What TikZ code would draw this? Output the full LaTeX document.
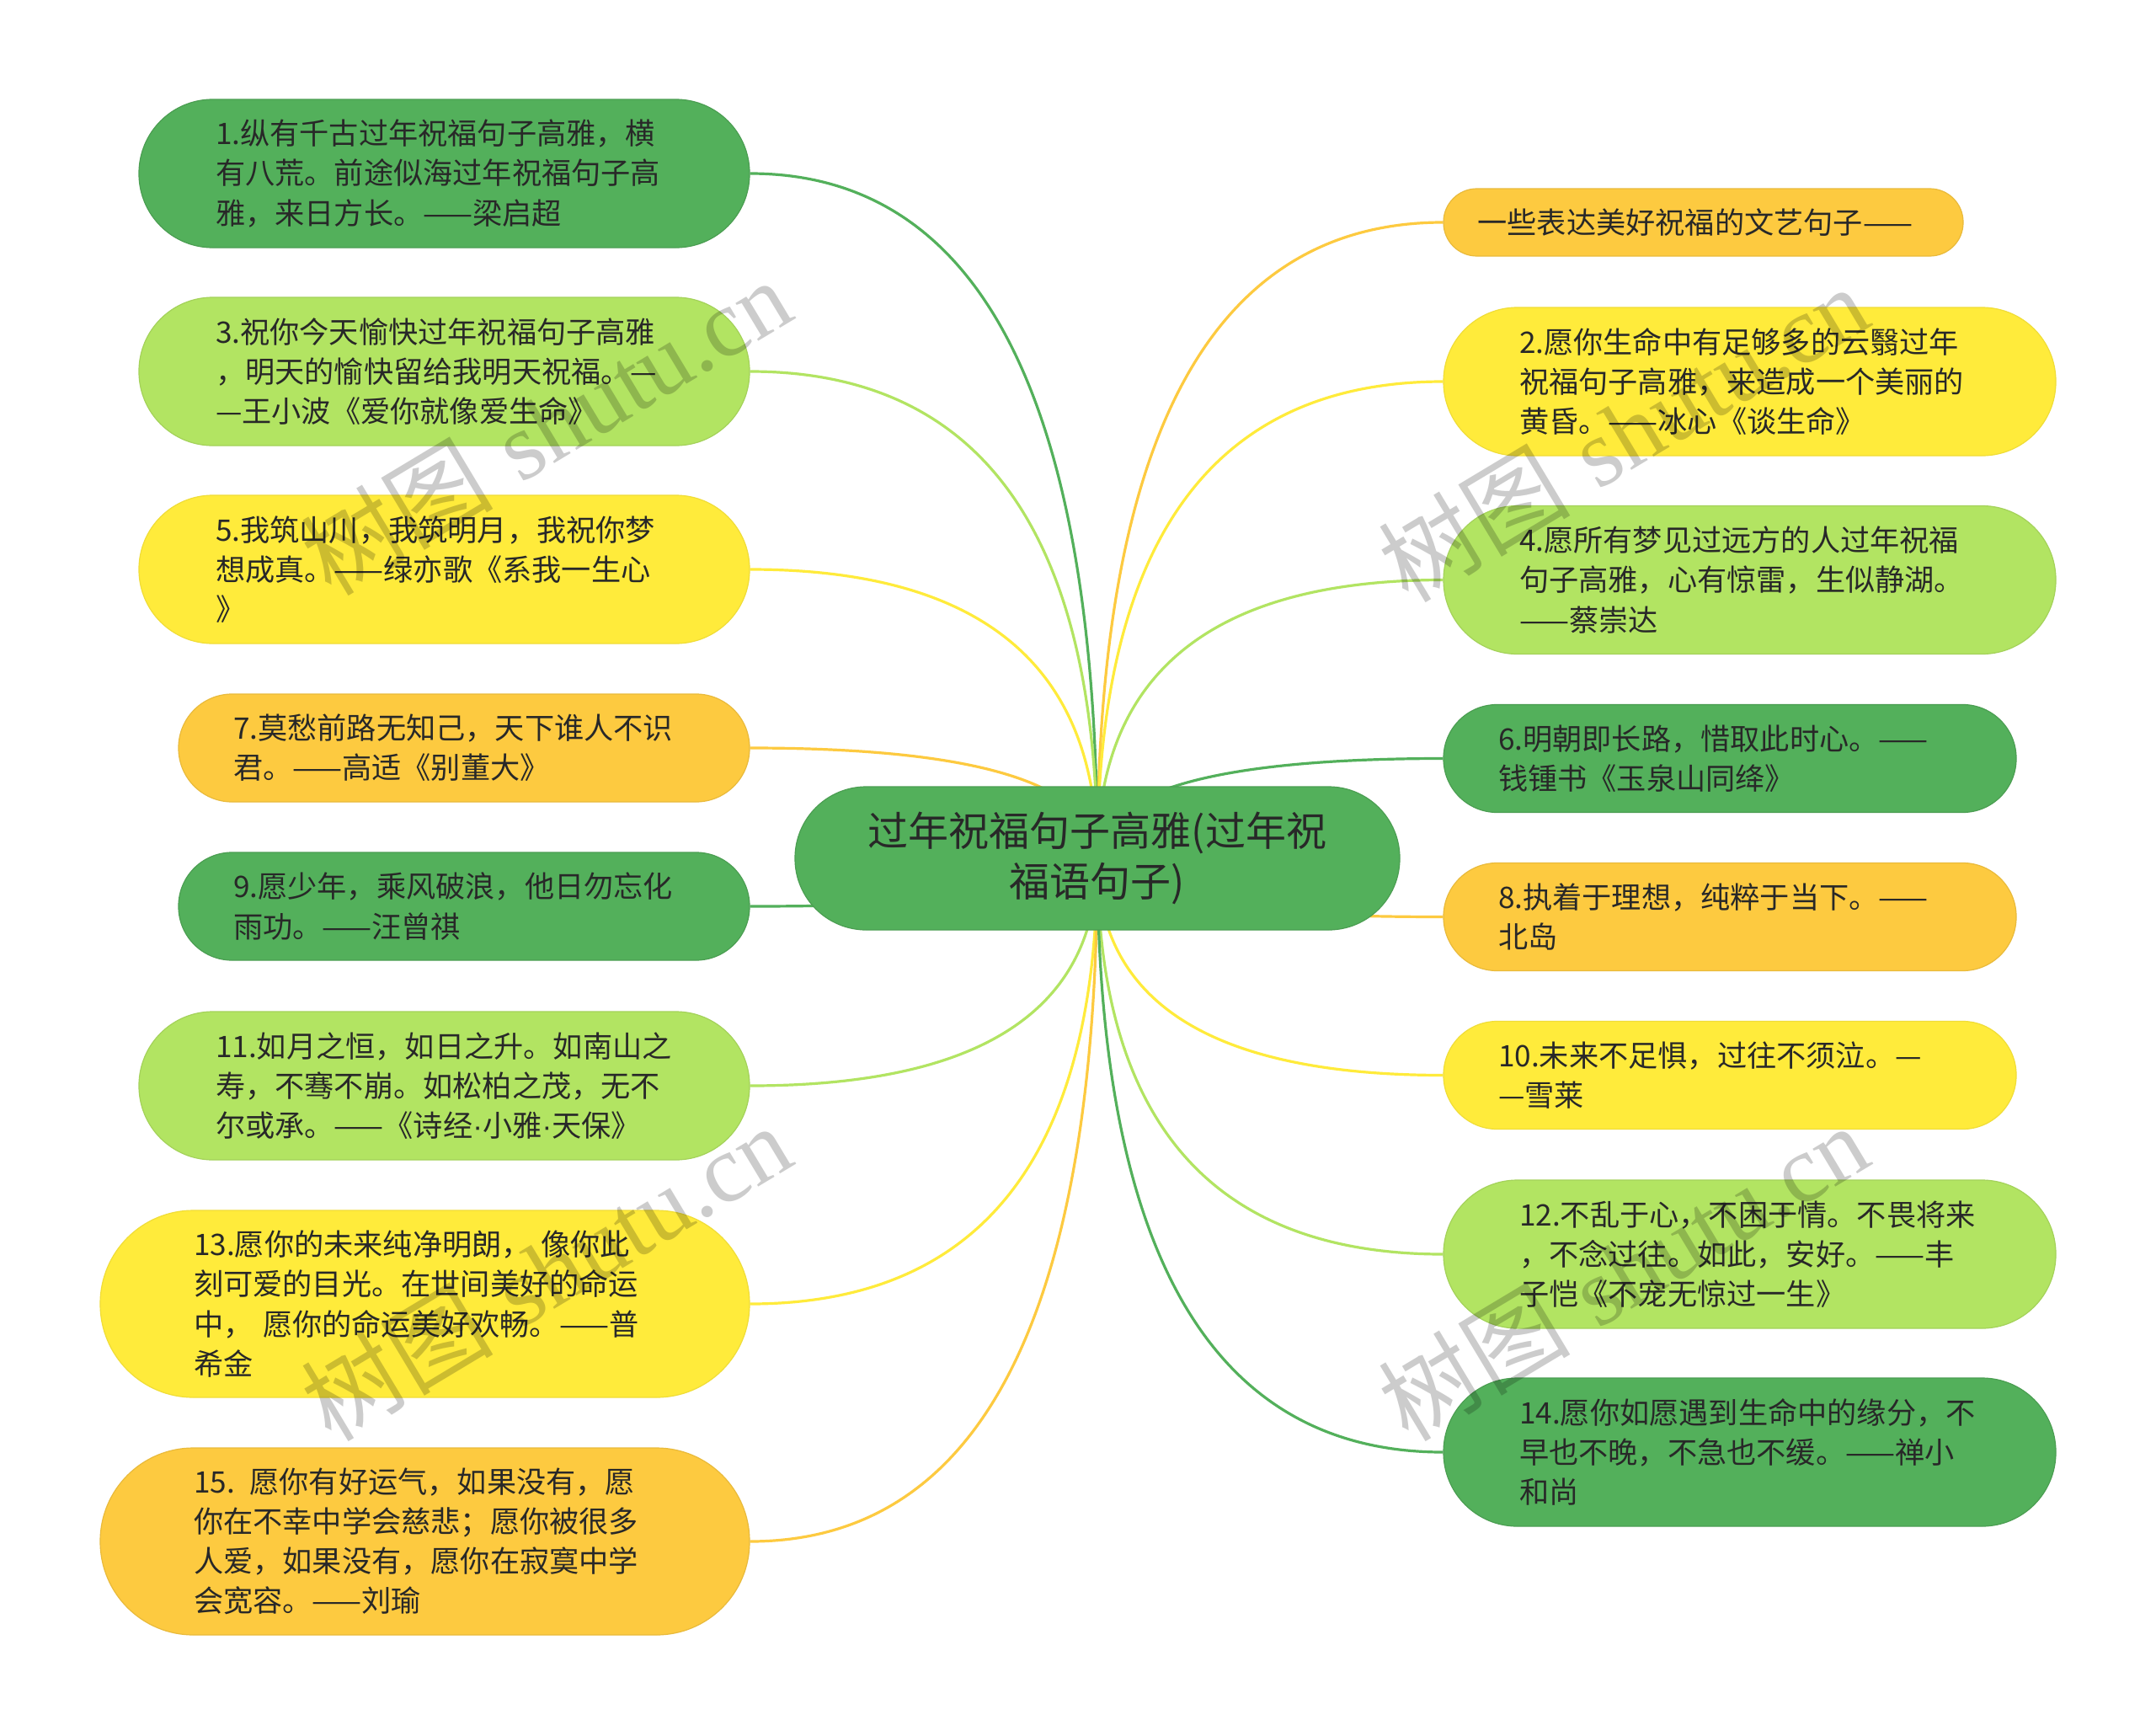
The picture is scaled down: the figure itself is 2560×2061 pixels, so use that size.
\documentclass[tikz,border=0pt]{standalone}
\usepackage{fontspec}
\newfontfamily\cjk{Noto Sans CJK SC}
\newfontfamily\wmserif{Liberation Serif}
\newfontfamily\latinsans{Liberation Sans}
\usetikzlibrary{calc}
\pgfdeclarelayer{bg}
\pgfsetlayers{bg,main}
\definecolor{dgreen}{RGB}{83,176,91}
\definecolor{lgreen}{RGB}{178,228,98}
\definecolor{yel}{RGB}{255,235,59}
\definecolor{org}{RGB}{253,202,64}
\definecolor{txt}{RGB}{40,40,40}
\tikzset{
  leaf/.style={font=\cjk\fontsize{17.6}{23.6}\selectfont, text=txt, align=left, inner sep=0pt, line width=0.6pt},
  h1/.style={minimum height=40pt, rounded corners=19.8pt},
  h2/.style={minimum height=64pt, rounded corners=31.8pt},
  h3/.style={minimum height=88pt, rounded corners=43.8pt},
  h4/.style={minimum height=111pt, rounded corners=55.3pt},
  cdg/.style={fill=dgreen, draw=dgreen!90!black},
  clg/.style={fill=lgreen, draw=lgreen!92!black},
  cye/.style={fill=yel, draw=yel!94!black},
  cor/.style={fill=org, draw=org!92!black},
  link/.style={line width=1.6pt},
  wm/.style={rotate=31, text=black, text opacity=0.2, inner sep=0pt},
}
\newcommand{\linkto}[2]{%
  \draw[link,#1] (c.center) .. controls ($(c.center)!0.6667!(c.center |- #2)$) and ($(#2)!0.6667!(c.center |- #2)$) .. (#2);}
\newcommand{\mdot}{{\latinsans ·}}
\begin{document}
\begin{tikzpicture}[x=0.5pt, y=-0.5pt]
\useasboundingbox (0,0) rectangle (2560,2061);

% centre
\node[font=\cjk\fontsize{24}{30.2}\selectfont, text=txt, align=center, inner sep=0pt,
      fill=dgreen, draw=dgreen!90!black, line width=0.6pt,
      minimum width=359pt, minimum height=85pt, rounded corners=42.3pt] (c) at (1303,1019)
  {过年祝福句子高雅(过年祝\\福语句子)};

% left side
\node[leaf, h3, cdg, minimum width=362.5pt, text width=271.5pt] (n1) at (527.5,206)
  {1.纵有千古过年祝福句子高雅，横\\有八荒。前途似海过年祝福句子高\\雅，来日方长。——梁启超};
\node[leaf, h3, clg, minimum width=362.5pt, text width=271.5pt] (n3) at (527.5,441)
  {3.祝你今天愉快过年祝福句子高雅\\，明天的愉快留给我明天祝福。—\\—王小波《爱你就像爱生命》};
\node[leaf, h3, cye, minimum width=362.5pt, text width=271.5pt] (n5) at (527.5,676)
  {5.我筑山川，我筑明月，我祝你梦\\想成真。——绿亦歌《系我一生心\\》};
\node[leaf, h2, cor, minimum width=339pt, text width=274pt] (n7) at (551,888)
  {7.莫愁前路无知己，天下谁人不识\\君。——高适《别董大》};
\node[leaf, h2, cdg, minimum width=339pt, text width=274pt] (n9) at (551,1076)
  {9.愿少年，乘风破浪，他日勿忘化\\雨功。——汪曾祺};
\node[leaf, h3, clg, minimum width=362.5pt, text width=271.5pt] (n11) at (527.5,1289)
  {11.如月之恒，如日之升。如南山之\\寿，不骞不崩。如松柏之茂，无不\\尔或承。——《诗经\mdot 小雅\mdot 天保》};
\node[leaf, h4, cye, minimum width=385.5pt, text width=274.5pt] (n13) at (504.5,1548)
  {13.愿你的未来纯净明朗， 像你此\\刻可爱的目光。在世间美好的命运\\中， 愿你的命运美好欢畅。——普\\希金};
\node[leaf, h4, cor, minimum width=385.5pt, text width=274.5pt] (n15) at (504.5,1830)
  {15. 愿你有好运气，如果没有，愿\\你在不幸中学会慈悲；愿你被很多\\人爱，如果没有，愿你在寂寞中学\\会宽容。——刘瑜};

% right side
\node[leaf, h1, cor, minimum width=308.5pt, text width=268pt] (t0) at (2022.5,264)
  {一些表达美好祝福的文艺句子——};
\node[leaf, h3, cye, minimum width=363.5pt, text width=273.5pt] (n2) at (2077.5,453)
  {2.愿你生命中有足够多的云翳过年\\祝福句子高雅，来造成一个美丽的\\黄昏。——冰心《谈生命》};
\node[leaf, h3, clg, minimum width=363.5pt, text width=273.5pt] (n4) at (2077.5,688.5)
  {4.愿所有梦见过远方的人过年祝福\\句子高雅，心有惊雷，生似静湖。\\——蔡崇达};
\node[leaf, h2, cdg, minimum width=340pt, text width=275pt] (n6) at (2054,900.5)
  {6.明朝即长路，惜取此时心。——\\钱锺书《玉泉山同绛》};
\node[leaf, h2, cor, minimum width=340pt, text width=275pt] (n8) at (2054,1088.5)
  {8.执着于理想，纯粹于当下。——\\北岛};
\node[leaf, h2, cye, minimum width=340pt, text width=275pt] (n10) at (2054,1276.5)
  {10.未来不足惧，过往不须泣。—\\—雪莱};
\node[leaf, h3, clg, minimum width=363.5pt, text width=273.5pt] (n12) at (2077.5,1489)
  {12.不乱于心，不困于情。不畏将来\\，不念过往。如此，安好。——丰\\子恺《不宠无惊过一生》};
\node[leaf, h3, cdg, minimum width=363.5pt, text width=273.5pt] (n14) at (2077.5,1724)
  {14.愿你如愿遇到生命中的缘分，不\\早也不晚，不急也不缓。——禅小\\和尚};

% connectors (behind the nodes, over the white page)
\begin{pgfonlayer}{bg}
\fill[white] (0,0) rectangle (2560,2061);
\linkto{dgreen}{n1.east}
\linkto{lgreen}{n3.east}
\linkto{yel}{n5.east}
\linkto{org}{n7.east}
\linkto{dgreen}{n9.east}
\linkto{lgreen}{n11.east}
\linkto{yel}{n13.east}
\linkto{org}{n15.east}
\linkto{org}{t0.west}
\linkto{yel}{n2.west}
\linkto{lgreen}{n4.west}
\linkto{dgreen}{n6.west}
\linkto{org}{n8.west}
\linkto{yel}{n10.west}
\linkto{lgreen}{n12.west}
\linkto{dgreen}{n14.west}
\end{pgfonlayer}

% watermarks
\node[wm] (w1) at (648,506) {\fontsize{57}{57}\selectfont{\cjk 树图} {\wmserif shutu.cn}};
\node[wm] (w2) at (648,1510) {\fontsize{57}{57}\selectfont{\cjk 树图} {\wmserif shutu.cn}};
\node[wm] (w3) at (1927,514) {\fontsize{57}{57}\selectfont{\cjk 树图} {\wmserif shutu.cn}};
\node[wm] (w4) at (1927,1510) {\fontsize{57}{57}\selectfont{\cjk 树图} {\wmserif shutu.cn}};
\end{tikzpicture}
\end{document}
